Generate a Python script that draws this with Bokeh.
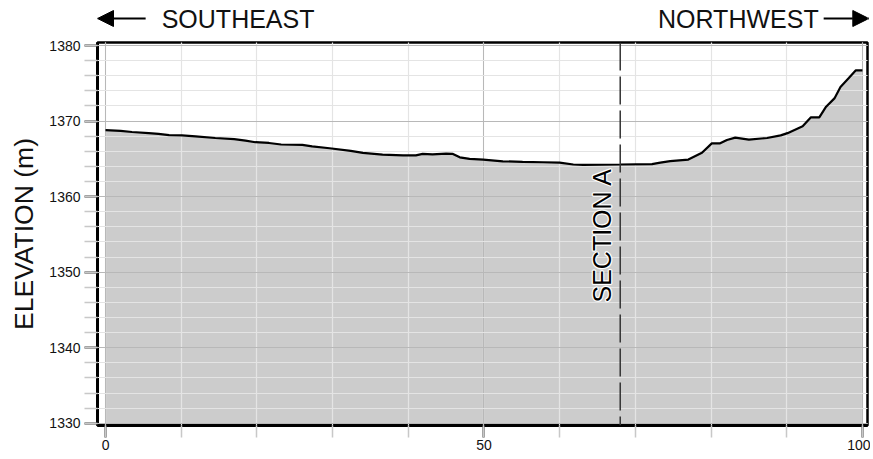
from bokeh.plotting import figure
from bokeh.layouts import column
from bokeh.models import Range1d, FixedTicker, Label, Arrow, NormalHead, Span, ColumnDataSource
from bokeh.core.properties import value
from bokeh.embed import file_html
from bokeh.resources import INLINE

# ---- data ----
distance = [0, 2.0, 3.5, 5.7, 7.0, 8.4, 10.1, 11.9, 14.5, 17.0, 18.5, 19.8, 21.6, 23.2,
            26.0, 27.3, 29.6, 32.4, 34.0, 36.6, 39.3, 41.0, 41.9, 43.2, 45.0, 45.9,
            46.8, 48.1, 49.9, 52.5, 55.1, 57.8, 60.0, 61.8, 63.1, 68.0, 72.2, 73.3,
            74.6, 77.0, 78.8, 80.1, 81.2, 82.1, 83.2, 85.0, 87.4, 89.2, 90.1, 92.1,
            93.2, 94.3, 95.2, 96.3, 97.1, 98.2, 99.1, 100.0]
elevation = [1368.8, 1368.7, 1368.55, 1368.4, 1368.3, 1368.15, 1368.1, 1367.97, 1367.76,
             1367.6, 1367.4, 1367.2, 1367.1, 1366.9, 1366.84, 1366.65, 1366.4, 1366.05,
             1365.8, 1365.55, 1365.46, 1365.46, 1365.65, 1365.6, 1365.7, 1365.65, 1365.2,
             1365.0, 1364.9, 1364.67, 1364.6, 1364.55, 1364.5, 1364.25, 1364.2, 1364.25,
             1364.3, 1364.5, 1364.7, 1364.9, 1365.8, 1367.05, 1367.05, 1367.5, 1367.8,
             1367.55, 1367.76, 1368.1, 1368.4, 1369.3, 1370.5, 1370.5, 1371.9, 1373.0,
             1374.5, 1375.7, 1376.7, 1376.7]
section_a = 68.0
section_label = "SECTION A"
x_major = [0, 50, 100]
x_minor = list(range(0, 101, 10))
y_major = [1330, 1340, 1350, 1360, 1370, 1380]
y_minor = list(range(1330, 1381, 2))
left_heading = "SOUTHEAST"
right_heading = "NORTHWEST"
y_title = "ELEVATION (m)"

X0, X1 = -1.06, 100.67
Y0, Y1 = 1329.7, 1380.4

FONT = "Liberation Sans"
W = 870
HEAD_H = 36
MAIN_H = 420

# ---- header strip: its frame is aligned with the main frame; range in page pixels ----
head = figure(width=W, height=HEAD_H, output_backend="svg", toolbar_location=None,
              x_range=Range1d(99, 866.7), y_range=Range1d(HEAD_H + 1, 1),
              x_axis_location=None, y_axis_location=None, min_border=0)
head.outline_line_color = None
head.background_fill_color = "white"
head.border_fill_color = "white"
for g in head.grid:
    g.visible = False
head.text(x=[163], y=[19], text=[left_heading], text_font=value(FONT),
          text_font_size="25px", text_color="#111111", text_align="left",
          text_baseline="middle")
head.text(x=[818], y=[19], text=[right_heading], text_font=value(FONT),
          text_font_size="25px", text_color="#111111", text_align="right",
          text_baseline="middle")
head.add_layout(Arrow(end=NormalHead(size=16, fill_color="black", line_color="black"),
                      x_start=147, y_start=19, x_end=99, y_end=19,
                      line_color="black", line_width=1.8))
head.add_layout(Arrow(end=NormalHead(size=16, fill_color="black", line_color="black"),
                      x_start=823, y_start=19, x_end=868, y_end=19,
                      line_color="black", line_width=1.8))

# ---- main profile plot ----
p = figure(width=W, height=MAIN_H, output_backend="svg", toolbar_location=None,
           x_range=Range1d(X0, X1), y_range=Range1d(Y0, Y1),
           min_border_left=97, min_border_right=3, min_border_top=6, min_border_bottom=31)
p.background_fill_color = "white"
p.border_fill_color = "white"
p.outline_line_color = "black"
p.outline_line_width = 2.5

src = ColumnDataSource(dict(x=distance, y=elevation, base=[Y0] * len(distance)))
p.varea(x="x", y1="base", y2="y", source=src, fill_color="#cccccc")

for g, tk in ((p.xgrid, FixedTicker(ticks=x_major, minor_ticks=x_minor)),
              (p.ygrid, FixedTicker(ticks=y_major, minor_ticks=y_minor))):
    g.ticker = tk
    g.grid_line_color = "#b8b8b8"
    g.grid_line_width = 1
    g.minor_grid_line_color = "#e4e4e4"
    g.minor_grid_line_width = 1.2
    g.level = "annotation"

line_r = p.line(x="x", y="y", source=src, line_color="black", line_width=2.2)
line_r.level = "overlay"

p.add_layout(Span(location=section_a, dimension="height", line_color="#333333",
                  line_width=1.5, line_dash="28 6", level="overlay"))

xa = p.xaxis[0]
xa.ticker = FixedTicker(ticks=x_major, minor_ticks=x_minor)
ya = p.yaxis[0]
ya.ticker = FixedTicker(ticks=y_major, minor_ticks=y_minor)
for ax in (xa, ya):
    ax.axis_line_color = "black"
    ax.axis_line_width = 3
    ax.major_tick_line_color = "#333333"
    ax.major_tick_line_width = 2
    ax.major_tick_in = 0
    ax.minor_tick_line_color = "#c8c8c8"
    ax.minor_tick_line_width = 1.5
    ax.minor_tick_in = 0
    ax.major_label_text_font = FONT
    ax.major_label_text_font_size = "14px"
    ax.major_label_text_color = "#111111"
xa.major_tick_out = 12
xa.minor_tick_out = 12
xa.major_label_standoff = 2
ya.major_tick_out = 13
ya.minor_tick_out = 13
ya.major_label_standoff = 4
ya.axis_label = y_title
ya.axis_label_text_font = FONT
ya.axis_label_text_font_size = "26.5px"
ya.axis_label_text_font_style = "normal"
ya.axis_label_text_color = "#111111"
ya.axis_label_standoff = 7

# SECTION A label: white halo underneath, black text on top
p.add_layout(Label(x=65.6, y=1354.9, text=section_label, text_font=FONT,
                   text_font_size="25px", text_color="white", angle=90, angle_units="deg",
                   text_align="center", text_baseline="middle", text_outline_color="white"))
p.add_layout(Label(x=65.6, y=1354.9, text=section_label, text_font=FONT,
                   text_font_size="25px", text_color="black", angle=90, angle_units="deg",
                   text_align="center", text_baseline="middle"))

layout = column(head, p, spacing=0)
open("out.html", "w").write(file_html(layout, INLINE))
